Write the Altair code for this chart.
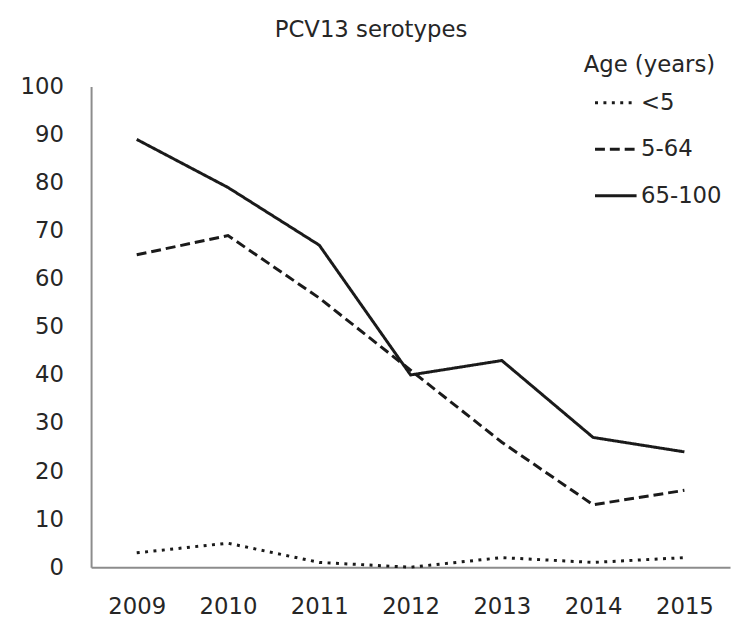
import altair as alt
import pandas as pd

years = ["2009", "2010", "2011", "2012", "2013", "2014", "2015"]
groups = ["<5", "5-64", "65-100"]
under5 = [3, 5, 1, 0, 2, 1, 2]
age5_64 = [65, 69, 56, 41, 26, 13, 16]
age65_100 = [89, 79, 67, 40, 43, 27, 24]

rows = []
for g, vals in zip(groups, [under5, age5_64, age65_100]):
    for yr, v in zip(years, vals):
        rows.append({"year": yr, "group": g, "value": v})
df = pd.DataFrame(rows)

FONT = "DejaVu Sans"
INK = "#1a1a1a"
TXT = "#262626"

chart = alt.Chart(df).mark_line(color=INK, strokeWidth=3, strokeCap="butt").encode(
    x=alt.X("year:O", sort=years,
            scale=alt.Scale(type="point", padding=0.5),
            axis=alt.Axis(title=None, labelAngle=0, ticks=False, grid=False,
                          labelFontSize=23, labelFont=FONT, labelColor=TXT,
                          labelPadding=29, domainColor="#8c8c8c", domainWidth=2)),
    y=alt.Y("value:Q", scale=alt.Scale(domain=[0, 100], nice=False),
            axis=alt.Axis(title=None, values=list(range(0, 101, 10)), ticks=False, grid=False,
                          labelFontSize=23, labelFont=FONT, labelColor=TXT,
                          labelPadding=28, domainColor="#8c8c8c", domainWidth=2)),
    strokeDash=alt.StrokeDash("group:N", sort=groups,
                              scale=alt.Scale(domain=groups, range=[[3, 5.5], [10, 5], [1, 0]]),
                              legend=alt.Legend(title="Age (years)", orient="none",
                                                legendX=498, legendY=-33,
                                                titleFontSize=23, titleFont=FONT, titleFontWeight="normal",
                                                titleColor=TXT, labelFontSize=23, labelFont=FONT,
                                                labelColor=TXT, symbolType="stroke", symbolSize=1764,
                                                symbolStrokeWidth=3, symbolStrokeColor=INK,
                                                symbolOffset=10, labelOffset=3, rowPadding=12,
                                                titlePadding=4)),
).properties(
    width=646, height=486,
    title=alt.Title("PCV13 serotypes", fontSize=23, font=FONT, fontWeight="normal",
                    color=TXT, frame="group", anchor="middle", dx=-40, offset=12),
    autosize=alt.AutoSizeParams(type="none"),
    padding={"left": 84, "top": 76, "right": 3, "bottom": 55},
).configure_view(stroke=None)

chart.save("out.html", embed_options={"renderer": "svg", "actions": False})
